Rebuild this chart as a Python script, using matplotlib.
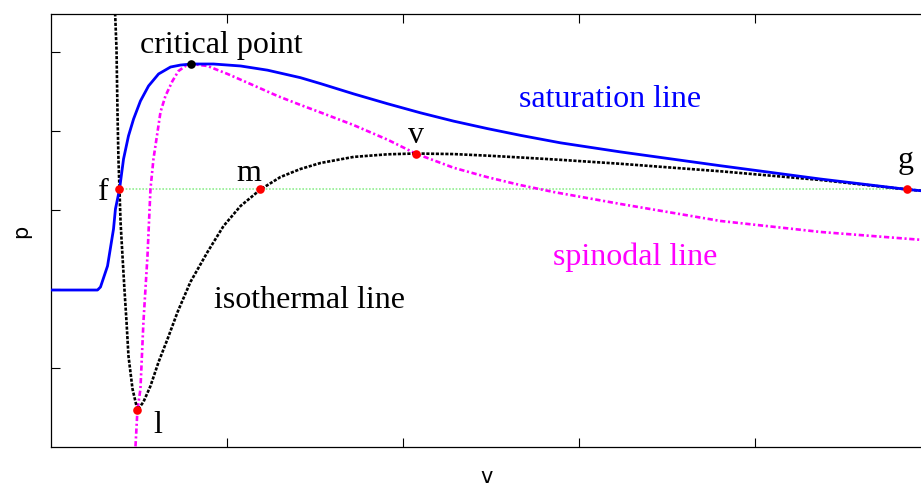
import matplotlib
matplotlib.use("Agg")
import matplotlib.pyplot as plt

# Saturation (binodal) line
sat_v = [0.0, 0.267, 0.284, 0.324, 0.358, 0.369, 0.392, 0.415, 0.443, 0.472, 0.511,
         0.557, 0.614, 0.682, 0.739, 0.801, 0.926, 1.080, 1.233, 1.420, 1.534,
         1.722, 1.915, 2.102, 2.290, 2.483, 2.670, 2.898, 3.239, 3.807, 4.375,
         4.869, 4.960]
sat_p = [1.987, 1.987, 2.025, 2.291, 2.759, 3.013, 3.26, 3.646, 3.937, 4.152, 4.380,
         4.570, 4.722, 4.810, 4.835, 4.848, 4.848, 4.823, 4.770, 4.675, 4.600,
         4.470, 4.345, 4.230, 4.125, 4.030, 3.945, 3.850, 3.735, 3.560, 3.392,
         3.26, 3.241]

# Isothermal line
iso_v = [0.364, 0.375, 0.381, 0.386, 0.392, 0.398, 0.409, 0.420, 0.432, 0.443,
         0.466, 0.494, 0.528, 0.568, 0.614, 0.665, 0.722, 0.795, 0.892, 0.983,
         1.080, 1.193, 1.307, 1.420, 1.534, 1.722, 1.915, 2.074, 2.290, 2.483,
         2.670, 2.898, 3.239, 3.807, 4.375, 4.869, 4.960]
iso_p = [5.670, 5.038, 4.190, 3.646, 3.26, 2.848, 2.418, 2.000, 1.582, 1.152,
         0.734, 0.468, 0.570, 0.772, 1.076, 1.367, 1.709, 2.089, 2.468, 2.797,
         3.051, 3.26, 3.418, 3.519, 3.595, 3.672, 3.705, 3.715, 3.708, 3.688,
         3.665, 3.635, 3.585, 3.490, 3.380, 3.26, 3.241]

# Spinodal line
spi_v = [0.477, 0.483, 0.494, 0.511, 0.528, 0.551, 0.568, 0.585, 0.608, 0.625,
         0.653, 0.693, 0.727, 0.767, 0.801, 0.892, 1.006, 1.136, 1.290, 1.420,
         1.534, 1.722, 1.915, 2.074, 2.290, 2.483, 2.670, 2.858, 3.239, 3.807,
         4.375, 4.960]
spi_p = [-0.152, 0.013, 0.468, 0.734, 1.582, 2.418, 3.266, 3.646, 3.987, 4.241,
         4.443, 4.633, 4.759, 4.823, 4.848, 4.823, 4.722, 4.595, 4.443, 4.330,
         4.235, 4.075, 3.890, 3.715, 3.535, 3.415, 3.315, 3.228, 3.076, 2.861,
         2.722, 2.620]

# Named states on the isotherm
pt_names = ["f", "l", "m", "v", "g"]
pt_v = [0.392, 0.494, 1.193, 2.074, 4.869]
pt_p = [3.26, 0.468, 3.26, 3.715, 3.26]

crit_v, crit_p = 0.801, 4.848

# Maxwell tie line between f and g
tie_v = [pt_v[0], pt_v[4]]
tie_p = [pt_p[0], pt_p[4]]

serif = ["Liberation Serif", "DejaVu Serif"]

fig = plt.figure(figsize=(9.21, 4.89), dpi=100)
ax = fig.add_axes([50.5 / 921, 1 - 448 / 489, 873 / 921, 433 / 489])

ax.plot(tie_v, tie_p, color="#90ee90", lw=1.2, ls=(0, (1, 1)), zorder=1)
ax.plot(spi_v, spi_p, color="#ff00ff", lw=1.9, ls=(0, (2, 1, 0.8, 1)), zorder=2)
ax.plot(iso_v, iso_p, color="black", lw=1.9, ls=(0, (1.2, 0.6)), zorder=3)
ax.plot(sat_v, sat_p, color="#0000ff", lw=2.0, zorder=4)
ax.plot(pt_v, pt_p, "o", color="#ff0000", ms=6.2, mec="none", zorder=5)
ax.plot([crit_v], [crit_p], "o", color="black", ms=6.2, mec="none", zorder=5)

ax.set_xlim(0, 4.96)
ax.set_ylim(0, 5.481)
ax.set_xticks([1, 2, 3, 4])
ax.set_yticks([1, 2, 3, 4, 5])
ax.tick_params(direction="in", length=6.5, width=0.8, top=True, bottom=True,
               left=True, right=False, labelbottom=False, labelleft=False)
for s in ax.spines.values():
    s.set_linewidth(0.9)

ax.set_xlabel("v", fontsize=15, labelpad=14)
ax.set_ylabel("p", fontsize=15, labelpad=14)

fs = 23
ax.text(0.972, 5.0, "critical point", fontsize=fs, family=serif, ha="center", va="baseline")
ax.text(3.182, 4.316, "saturation line", fontsize=fs, family=serif, ha="center",
        va="baseline", color="#0000ff")
ax.text(3.324, 2.316, "spinodal line", fontsize=fs, family=serif, ha="center",
        va="baseline", color="#ff00ff")
ax.text(1.472, 1.772, "isothermal line", fontsize=fs, family=serif, ha="center", va="baseline")

label_pos = {"f": (0.301, 3.139), "l": (0.608, 0.19), "m": (1.125, 3.38),
             "v": (2.074, 3.86), "g": (4.858, 3.544)}
for name in pt_names:
    x, y = label_pos[name]
    ax.text(x, y, name, fontsize=fs, family=serif, ha="center", va="baseline")

fig.savefig("out.png", dpi=100)
